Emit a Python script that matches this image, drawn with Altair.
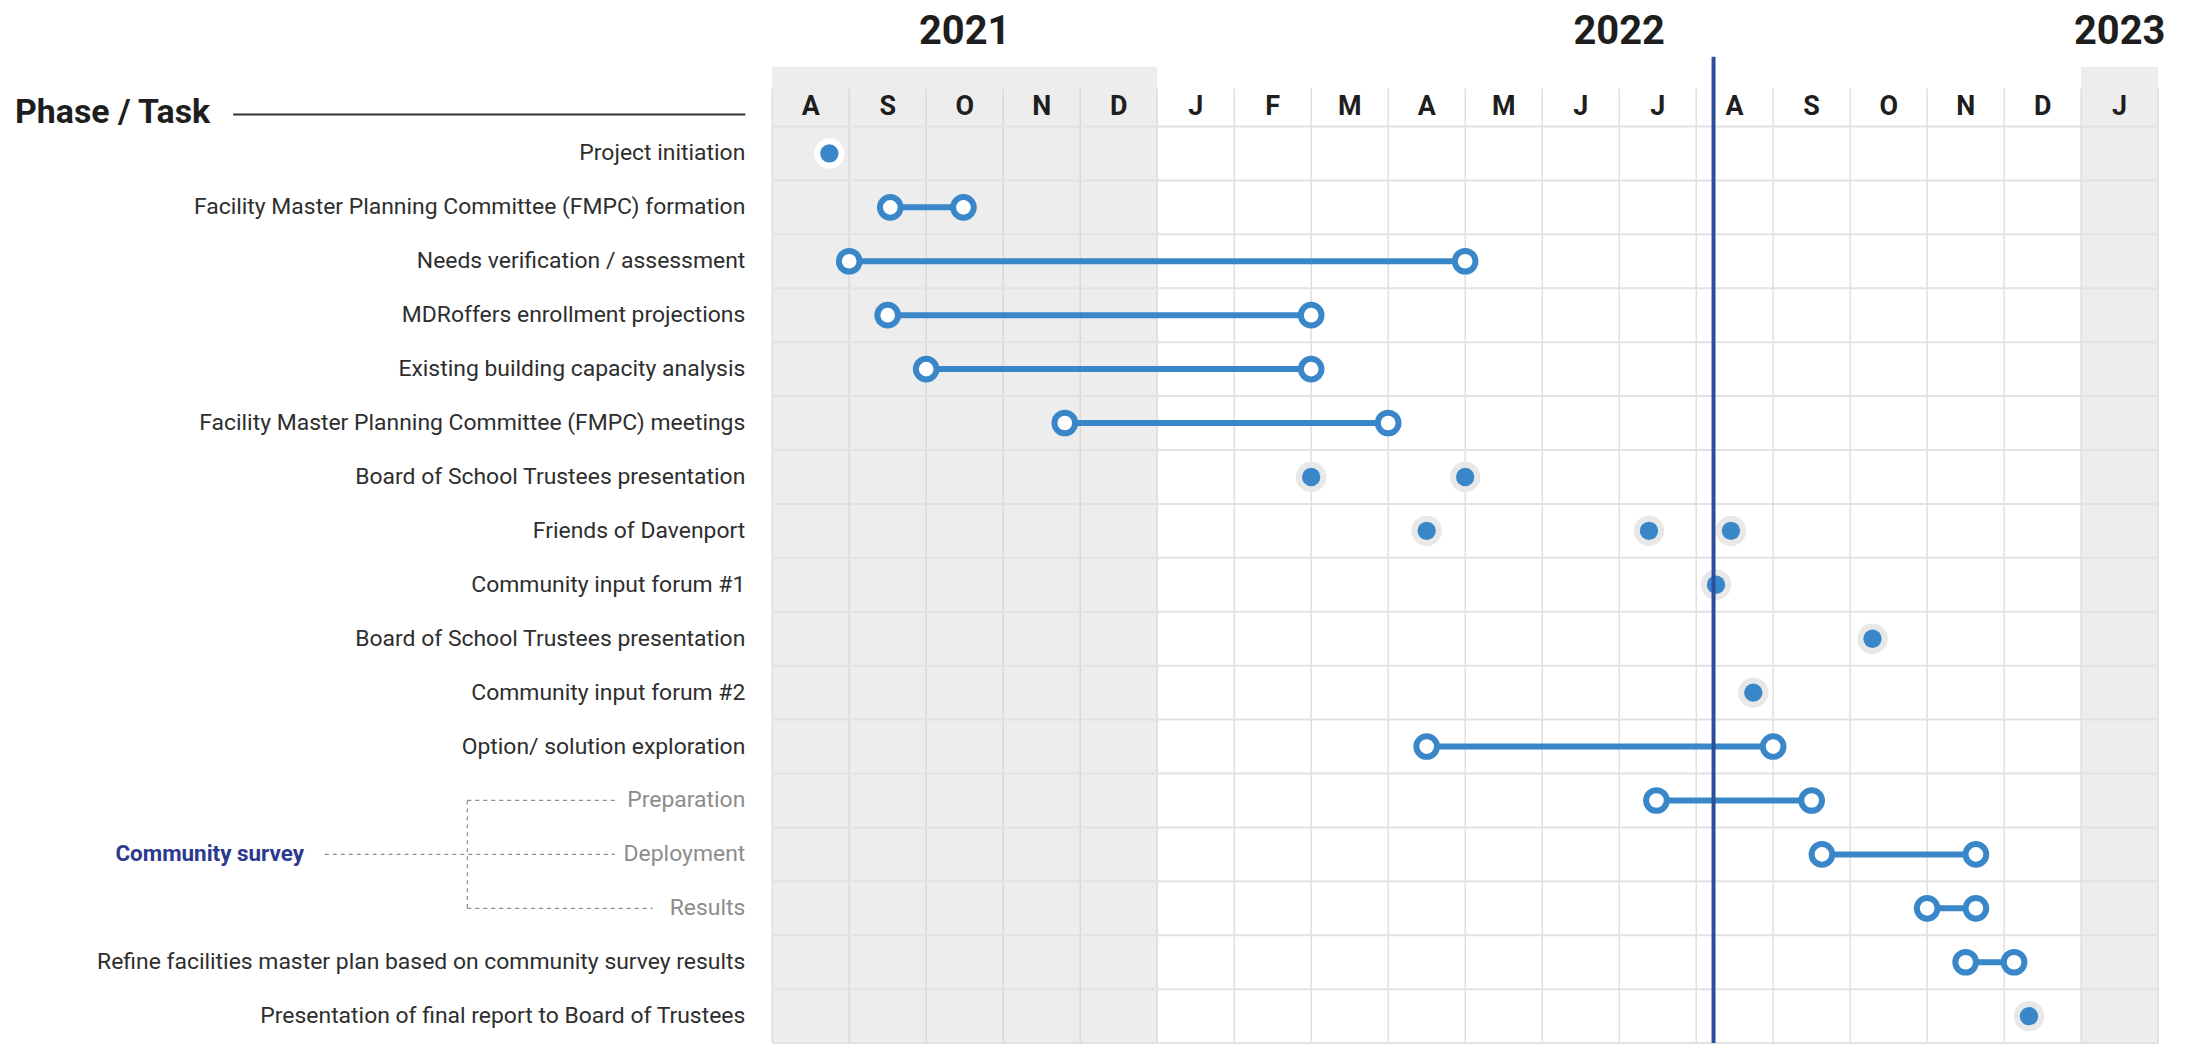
import calendar
import altair as alt
import pandas as pd

# ---------------- data ----------------
task_labels = [
    "Project initiation",
    "Facility Master Planning Committee (FMPC) formation",
    "Needs verification / assessment",
    "MDRoffers enrollment projections",
    "Existing building capacity analysis",
    "Facility Master Planning Committee (FMPC) meetings",
    "Board of School Trustees presentation",
    "Friends of Davenport",
    "Community input forum #1",
    "Board of School Trustees presentation",
    "Community input forum #2",
    "Option/ solution exploration",
    "Preparation",
    "Deployment",
    "Results",
    "Refine facilities master plan based on community survey results",
    "Presentation of final report to Board of Trustees",
]
task_kind = ["main"] * 12 + ["sub"] * 3 + ["main"] * 2
group_label = "Community survey"
group_rows = [12, 13, 14]

range_rows = [2, 3, 4, 5, 6, 12, 13, 14, 15, 16]
range_start = ["2021-09-17", "2021-09-01", "2021-09-16", "2021-10-01", "2021-11-25",
               "2022-04-16", "2022-07-16", "2022-09-20", "2022-11-01", "2022-11-16"]
range_end = ["2021-10-16", "2022-05-01", "2022-03-01", "2022-03-01", "2022-04-01",
             "2022-09-01", "2022-09-16", "2022-11-20", "2022-11-20", "2022-12-05"]

event_rows = [1, 7, 7, 8, 8, 8, 9, 10, 11, 17]
event_dates = ["2021-08-24", "2022-03-01", "2022-05-01", "2022-04-16", "2022-07-13",
               "2022-08-15", "2022-08-09", "2022-10-10", "2022-08-24", "2022-12-11"]

today = "2022-08-08"

month_letters = ["A", "S", "O", "N", "D", "J", "F", "M", "A", "M", "J", "J",
                 "A", "S", "O", "N", "D", "J"]
years = ["2021", "2022", "2023"]
year_first_month = [0, 5, 17]
year_last_month = [5, 17, 18]
shaded_from = [0, 17]
shaded_to = [5, 18]

# ---------------- helpers ----------------
def mpos(s):
    y, m, d = map(int, s.split("-"))
    return (y - 2021) * 12 + (m - 8) + (d - 1) / calendar.monthrange(y, m)[1]

N_ROWS = len(task_labels)
N_MONTHS = len(month_letters)
W, H = 1391, 920

BLUE = "#3987C9"
NAVY = "#2B3990"
TODAY = "#2B509B"

xs = alt.Scale(domain=[0, N_MONTHS], nice=False, zero=False)
ys = alt.Scale(domain=[0, N_ROWS], reverse=True, nice=False, zero=False)

labels_df = pd.DataFrame({
    "row": list(range(1, N_ROWS + 1)),
    "y": [i + 0.5 for i in range(N_ROWS)],
    "label": task_labels,
    "kind": task_kind,
})
ranges_df = pd.DataFrame({
    "y": [r - 0.5 for r in range_rows],
    "s": [mpos(d) for d in range_start],
    "e": [mpos(d) for d in range_end],
})
ends_df = pd.concat([
    pd.DataFrame({"y": ranges_df["y"], "x": ranges_df["s"]}),
    pd.DataFrame({"y": ranges_df["y"], "x": ranges_df["e"]}),
])
ev_x = [mpos(d) for d in event_dates]
events_df = pd.DataFrame({
    "y": [r - 0.5 for r in event_rows],
    "x": ev_x,
    "halo": ["#FFFFFF" if (x < shaded_to[0] or x >= shaded_from[1]) else "#E8E8E8" for x in ev_x],
})
months_df = pd.DataFrame({"m": [i + 0.5 for i in range(N_MONTHS)], "t": month_letters})
vlines_df = pd.DataFrame({"b": list(range(0, N_MONTHS + 1))})
hlines_df = pd.DataFrame({"b": list(range(0, N_ROWS + 1))})
shade_df = pd.DataFrame({"a": shaded_from, "b": shaded_to})
years_df = pd.DataFrame({
    "c": [(a + b) / 2 for a, b in zip(year_first_month, year_last_month)],
    "t": years,
})
today_df = pd.DataFrame({"x": [mpos(today)]})
grp_df = pd.DataFrame({"y": [group_rows[1] + 0.5], "t": [group_label]})
grp_h_df = pd.DataFrame({"y": [r + 0.5 for r in group_rows]})
grp_v_df = pd.DataFrame({"y": [group_rows[0] + 0.5], "y2": [group_rows[-1] + 0.5]})

FONT = "Roboto"

shade = alt.Chart(shade_df).mark_rect(color="#EDEDED").encode(
    x=alt.X("a:Q", scale=xs, axis=None), x2="b:Q",
    y=alt.value(-60), y2=alt.value(H))

vlines = alt.Chart(vlines_df).mark_rule(color="#D0D0D0", strokeWidth=1).encode(
    x=alt.X("b:Q", scale=xs, axis=None), y=alt.value(-38), y2=alt.value(H))

hlines = alt.Chart(hlines_df).mark_rule(color="#E2E2E2", strokeWidth=2).encode(
    y=alt.Y("b:Q", scale=ys, axis=None), x=alt.value(0), x2=alt.value(W))

months = alt.Chart(months_df).mark_text(
    font=FONT, fontSize=27, fontWeight="bold", color="#1E1E1E", baseline="middle").encode(
    x=alt.X("m:Q", scale=xs, axis=None), y=alt.value(-20), text="t:N")

yrs = alt.Chart(years_df).mark_text(
    font=FONT, fontSize=40, fontWeight="bold", color="#1E1E1E", baseline="middle").encode(
    x=alt.X("c:Q", scale=xs, axis=None), y=alt.value(-95), text="t:N")

bars = alt.Chart(ranges_df).mark_rule(color=BLUE, strokeWidth=6).encode(
    x=alt.X("s:Q", scale=xs, axis=None), x2="e:Q",
    y=alt.Y("y:Q", scale=ys, axis=None))

ends = alt.Chart(ends_df).mark_point(
    shape="circle", filled=True, fill="white", stroke=BLUE, strokeWidth=6,
    size=430, opacity=1).encode(
    x=alt.X("x:Q", scale=xs, axis=None), y=alt.Y("y:Q", scale=ys, axis=None))

halos = alt.Chart(events_df).mark_circle(size=930, opacity=1).encode(
    x=alt.X("x:Q", scale=xs, axis=None), y=alt.Y("y:Q", scale=ys, axis=None),
    color=alt.Color("halo:N", scale=None))

dots = alt.Chart(events_df).mark_circle(size=340, color=BLUE, opacity=1).encode(
    x=alt.X("x:Q", scale=xs, axis=None), y=alt.Y("y:Q", scale=ys, axis=None))

today_line = alt.Chart(today_df).mark_rule(color=TODAY, strokeWidth=4).encode(
    x=alt.X("x:Q", scale=xs, axis=None), y=alt.value(-70), y2=alt.value(H))

labels = alt.Chart(labels_df).mark_text(
    font=FONT, fontSize=23, align="right", baseline="middle").encode(
    x=alt.value(-27), y=alt.Y("y:Q", scale=ys, axis=None), text="label:N",
    color=alt.Color("kind:N", scale=alt.Scale(domain=["main", "sub"],
                                               range=["#2E2E2E", "#8C8C8C"]), legend=None))

header = alt.Chart(pd.DataFrame({"t": ["Phase / Task"]})).mark_text(
    font=FONT, fontSize=34, fontWeight="bold", align="left", baseline="middle",
    color="#1E1E1E").encode(x=alt.value(-760), y=alt.value(-13), text="t:N")

header_line = alt.Chart(pd.DataFrame({"t": ["Phase / Task"]})).mark_rule(
    color="#333333", strokeWidth=2).encode(
    x=alt.value(-541), x2=alt.value(-27), y=alt.value(-12))

grp_text = alt.Chart(grp_df).mark_text(
    font=FONT, fontSize=22.5, fontWeight="bold", align="right", baseline="middle",
    color=NAVY).encode(x=alt.value(-470), y=alt.Y("y:Q", scale=ys, axis=None), text="t:N")

DASH = dict(color="#8C8C8C", strokeWidth=1.2, strokeDash=[4, 4])

grp_main = alt.Chart(grp_df).mark_rule(**DASH).encode(
    x=alt.value(-449), x2=alt.value(-158), y=alt.Y("y:Q", scale=ys, axis=None))

grp_top = alt.Chart(grp_h_df.iloc[[0]]).mark_rule(**DASH).encode(
    x=alt.value(-306), x2=alt.value(-158), y=alt.Y("y:Q", scale=ys, axis=None))

grp_bot = alt.Chart(grp_h_df.iloc[[2]]).mark_rule(**DASH).encode(
    x=alt.value(-306), x2=alt.value(-120), y=alt.Y("y:Q", scale=ys, axis=None))

grp_vert = alt.Chart(grp_v_df).mark_rule(**DASH).encode(
    x=alt.value(-306), y=alt.Y("y:Q", scale=ys, axis=None), y2="y2:Q")

chart = alt.layer(
    shade, vlines, hlines, months, yrs, bars, ends, halos, dots, today_line,
    labels, header, header_line, grp_text, grp_main, grp_top, grp_bot, grp_vert,
).properties(
    width=W, height=H,
    autosize=alt.AutoSizeParams(type="none"),
    padding={"left": 767, "top": 117, "right": 37, "bottom": 0},
    background="white",
).configure_view(stroke=None)

chart.save("out.html", embed_options={"renderer": "svg", "actions": False})
